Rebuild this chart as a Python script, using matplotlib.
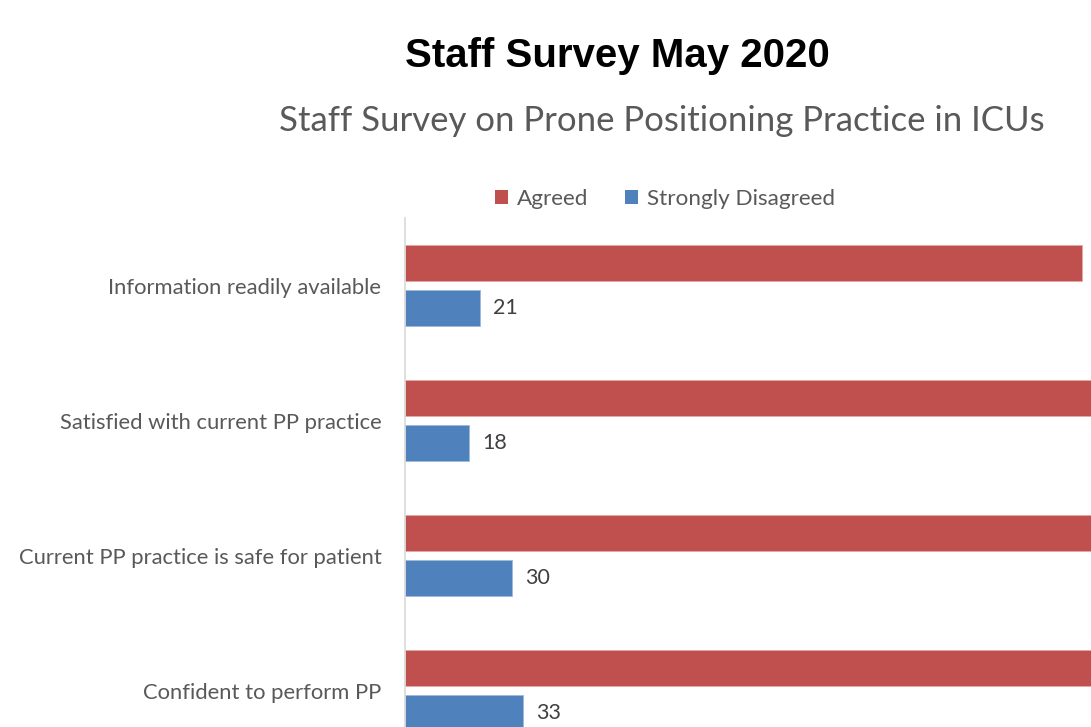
import matplotlib
matplotlib.use("Agg")
import matplotlib.pyplot as plt
from matplotlib.patches import Patch
import numpy as np

categories = ["Information readily available",
              "Satisfied with current PP practice",
              "Current PP practice is safe for patient",
              "Confident to perform PP"]
agreed = [189, 196, 193, 198]
strongly_disagreed = [21, 18, 30, 33]

red = "#C0504D"
blue = "#4F81BD"
grey_txt = "#595959"

fig = plt.figure(figsize=(10.91, 7.27), dpi=100)
ax = fig.add_axes([405 / 1091, 0, 1 - 405 / 1091, 1 - 218 / 727])

y = np.arange(len(categories))
h = 0.267
off = 0.167
ax.barh(y - off, agreed, height=h, color=red, edgecolor="#E6A8A6", linewidth=0.6)
ax.barh(y + off, strongly_disagreed, height=h, color=blue, edgecolor="#9DB8DB", linewidth=0.6)

# agreed labels fall outside the cropped picture, only the blue ones show
for yi, v in zip(y, strongly_disagreed):
    ax.text(v + 3.6, yi + off, str(v), va="center", ha="left",
            fontsize=15.5, color="#404040", family="Lato")

ax.set_xlim(0, 191.6)
ax.set_ylim(3.267, -0.5)
ax.set_yticks(y)
ax.set_yticklabels(categories, fontsize=15.8, color=grey_txt, family="Lato")
ax.tick_params(axis="y", length=0, pad=17)
ax.set_xticks([])
for s in ["top", "right", "bottom"]:
    ax.spines[s].set_visible(False)
ax.spines["left"].set_color("#D9D9D9")
ax.spines["left"].set_linewidth(1.2)

fig.text(617 / 1091, 1 - 56 / 727, "Staff Survey May 2020", ha="center", va="center",
         fontsize=29, fontweight="bold", family="Liberation Sans", color="black")
fig.text(662 / 1091, 1 - 121 / 727, "Staff Survey on Prone Positioning Practice in ICUs",
         ha="center", va="center", fontsize=25, family="Lato", color=grey_txt)

handles = [Patch(facecolor=red), Patch(facecolor=blue)]
fig.legend(handles, ["Agreed", "Strongly Disagreed"], loc="center",
           bbox_to_anchor=(665 / 1091, 1 - 199 / 727), ncol=2, frameon=False,
           prop={"family": "Lato", "size": 16.2}, labelcolor=grey_txt,
           handlelength=0.6, handleheight=0.6, handletextpad=0.4, columnspacing=1.6)

fig.savefig("out.png", dpi=100)
